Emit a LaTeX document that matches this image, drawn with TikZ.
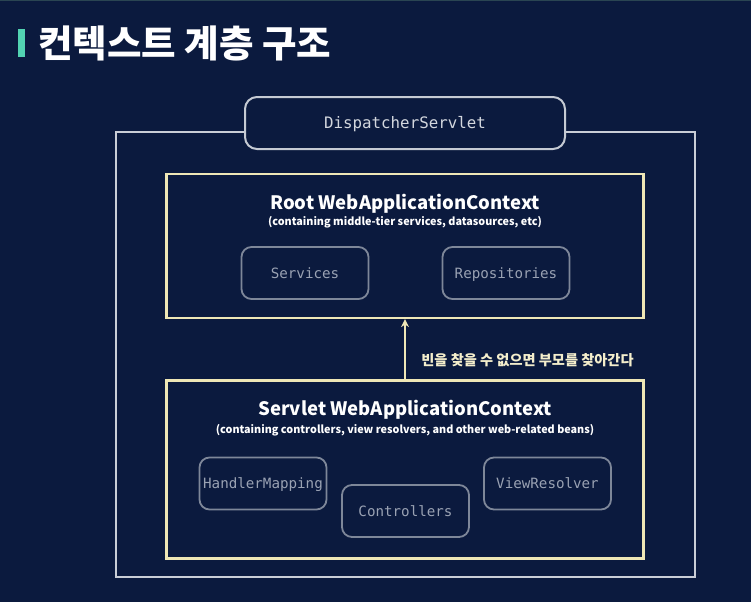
\documentclass[tikz,border=0pt]{standalone}
\usepackage{fontspec}
\setmainfont{Noto Sans CJK KR}
\newfontfamily\kr{Noto Sans CJK KR}
\newfontfamily\mono{DejaVu Sans Mono}
\usetikzlibrary{arrows.meta}
\definecolor{bg}{HTML}{0B1A3E}
\definecolor{outerc}{HTML}{C9CDD6}
\definecolor{creamc}{HTML}{EFE7B6}
\definecolor{beanc}{HTML}{7E8799}
\definecolor{beantext}{HTML}{9AA2B3}
\definecolor{dispc}{HTML}{C5CAD3}
\definecolor{disptext}{HTML}{D3D7DE}
\definecolor{accent}{HTML}{52D3B2}
\definecolor{topline}{HTML}{2A4552}
\tikzset{
  ctxbox/.style={draw=creamc, line width=2.2pt, fill=bg, inner sep=0pt},
  bean/.style={draw=beanc, line width=1.8pt, rounded corners=10pt, inner sep=0pt,
     minimum width=127pt, minimum height=52pt, text height=10.4pt, text depth=0pt,
     text=beantext, font=\mono\fontsize{14.2}{16}\selectfont},
  ctxtitle/.style={text=white, font=\kr\bfseries\fontsize{18.5}{20}\selectfont, inner sep=0pt},
  ctxsub/.style={text=white, font=\kr\bfseries\fontsize{10.8}{12}\selectfont, inner sep=0pt},
}
\begin{document}
\begin{tikzpicture}[x=1pt,y=-1pt]
\fill[bg] (0,0) rectangle (751,602);
\useasboundingbox (0,0) rectangle (751,602);
\fill[topline] (0,0) rectangle (751,1.5);
% title
\fill[accent] (18,29) rectangle (24.5,57);
\node[anchor=west, inner sep=0pt, text=white, font=\kr\bfseries\fontsize{37.5}{40}\selectfont] (title) at (38,43.5) {컨텍스트 계층 구조};
% outer box
\node[draw=outerc, line width=2pt, minimum width=579pt, minimum height=445pt, inner sep=0pt] (outer) at (405.5,354.5) {};
\node[draw=dispc, line width=2pt, fill=bg, rounded corners=12pt, minimum width=320pt, minimum height=52pt, inner sep=0pt,
  text height=11.5pt, text depth=0pt, text=disptext, font=\mono\fontsize{15.8}{18}\selectfont] (disp) at (405,123) {DispatcherServlet};
% root context
\node[ctxbox, minimum width=477pt, minimum height=144pt] (root) at (405,246) {};
\node[ctxtitle] (roottitle) at (405,204) {Root WebApplicationContext};
\node[ctxsub] (rootsub) at (405,222) {(containing middle-tier services, datasources, etc)};
\node[bean] (services) at (305,273) {Services};
\node[bean] (repos) at (506,273) {Repositories};
% servlet context
\node[ctxbox, minimum width=477pt, minimum height=178pt] (servlet) at (405,469.5) {};
\node[ctxtitle] (servlettitle) at (405,410) {Servlet WebApplicationContext};
\node[ctxsub] (servletsub) at (405,430) {(containing controllers, view resolvers, and other web-related beans)};
\node[bean] (handler) at (263,483.5) {HandlerMapping};
\node[bean] (controllers) at (405.5,511) {Controllers};
\node[bean] (viewres) at (547.5,483.5) {ViewResolver};
% arrow
\draw[creamc, line width=2pt, -{Stealth[length=8pt,width=8pt]}] (servlet.north) -- (root.south);
\node[inner sep=0pt, text=creamc!70!white, font=\kr\bfseries\fontsize{14.2}{16}\selectfont] (lbl) at (527.5,360) {빈을 찾을 수 없으면 부모를 찾아간다};
\end{tikzpicture}
\end{document}
